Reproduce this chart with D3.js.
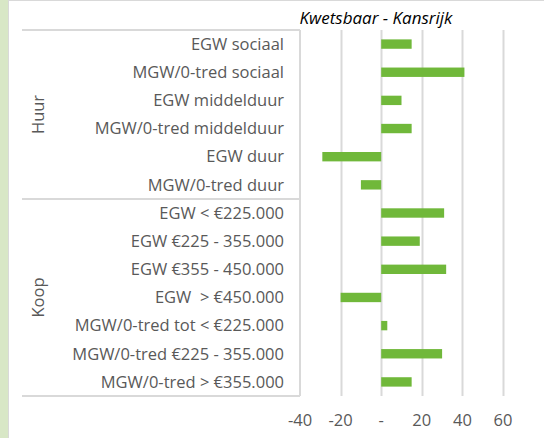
<!doctype html>
<html>
<head>
<meta charset="utf-8" />
<script src="https://cdn.jsdelivr.net/npm/d3@7"></script>
<style>
  body { margin: 0; background: #fff; }
  text { font-family: "Open Sans", sans-serif; fill: #595959; }
</style>
</head>
<body>
<svg id="chart" width="544" height="438"></svg>
<script>
// categories (top to bottom) and their group
var groups = ['Huur', 'Koop'];
var categories = [
  'EGW sociaal', 'MGW/0-tred sociaal', 'EGW middelduur', 'MGW/0-tred middelduur',
  'EGW duur', 'MGW/0-tred duur',
  'EGW < €225.000', 'EGW €225 - 355.000', 'EGW €355 - 450.000', 'EGW  > €450.000',
  'MGW/0-tred tot < €225.000', 'MGW/0-tred €225 - 355.000', 'MGW/0-tred > €355.000'
];
var categoryGroup = ['Huur','Huur','Huur','Huur','Huur','Huur','Koop','Koop','Koop','Koop','Koop','Koop','Koop'];
var values = [15, 41, 10, 15, -29, -10, 31, 19, 32, -20, 3, 30, 15];
var ticks = [-40, -20, 0, 20, 40, 60];
var tickLabels = ['-40', '-20', '-', '20', '40', '60'];
var title = 'Kwetsbaar - Kansrijk';

var svg = d3.select('#chart');
var margin = { top: 30, left: 300, right: 41, bottom: 42 };
var W = 544, H = 438;

// green strip on the left and top border
svg.append('rect').attr('x', 0).attr('y', 0).attr('width', 8).attr('height', H).attr('fill', '#d8e7c6');
svg.append('line').attr('x1', 8.5).attr('x2', 8.5).attr('y1', 0).attr('y2', H).attr('stroke', '#d9d9d9');
svg.append('line').attr('x1', 8).attr('x2', W).attr('y1', 0.5).attr('y2', 0.5).attr('stroke', '#d9d9d9');

var x = d3.scaleLinear().domain([-40, 60]).range([margin.left, W - margin.right]);
var y = d3.scaleBand().domain(categories).range([margin.top, H - margin.bottom]).paddingInner(2 / 3).paddingOuter(1 / 3);

// gridlines
svg.append('g').selectAll('line').data(ticks.slice(1)).join('line')
  .attr('x1', function(d) { return Math.round(x(d)) + 0.5; })
  .attr('x2', function(d) { return Math.round(x(d)) + 0.5; })
  .attr('y1', margin.top).attr('y2', H - margin.bottom)
  .attr('stroke', '#d9d9d9').attr('stroke-width', 2);

// bars
svg.append('g').selectAll('rect').data(values).join('rect')
  .attr('x', function(d) { return x(Math.min(0, d)); })
  .attr('y', function(d, i) { return y(categories[i]); })
  .attr('width', function(d) { return Math.abs(x(d) - x(0)); })
  .attr('height', y.bandwidth())
  .attr('fill', '#70b83a');

// category axis line and group separators
svg.append('line').attr('x1', margin.left).attr('x2', margin.left)
  .attr('y1', margin.top).attr('y2', H - margin.bottom).attr('stroke', '#d9d9d9').attr('stroke-width', 2);
var step = y.step();
var boundaries = [0];
groups.forEach(function(g) {
  var last = categoryGroup.lastIndexOf(g);
  boundaries.push(last + 1);
});
svg.append('g').selectAll('line').data(boundaries).join('line')
  .attr('x1', 22).attr('x2', margin.left)
  .attr('y1', function(d) { return margin.top + d * step; })
  .attr('y2', function(d) { return margin.top + d * step; })
  .attr('stroke', '#d9d9d9').attr('stroke-width', 2);

// category labels
svg.append('g').selectAll('text').data(categories).join('text')
  .attr('x', 284)
  .attr('y', function(d) { return y(d) + y.bandwidth() / 2; })
  .attr('dy', '0.35em')
  .attr('text-anchor', 'end')
  .style('font-size', '16.5px')
  .style('white-space', 'pre')
  .text(function(d) { return d; });

// group labels
groups.forEach(function(g, gi) {
  var yc = margin.top + (boundaries[gi] + boundaries[gi + 1]) / 2 * step;
  svg.append('text')
    .attr('transform', 'translate(38,' + yc + ') rotate(-90)')
    .attr('text-anchor', 'middle')
    .attr('dy', '0.35em')
    .style('font-size', '16.5px')
    .text(g);
});

// value axis labels
svg.append('g').selectAll('text').data(ticks).join('text')
  .attr('x', function(d) { return x(d); })
  .attr('y', 420)
  .attr('dy', '0.35em')
  .attr('text-anchor', 'middle')
  .style('font-size', '16.5px')
  .text(function(d, i) { return tickLabels[i]; });

// title
svg.append('text')
  .attr('x', 376).attr('y', 18)
  .attr('dy', '0.35em')
  .attr('text-anchor', 'middle')
  .style('font-size', '17px')
  .style('font-style', 'italic')
  .style('fill', '#000')
  .text(title);
</script>
</body>
</html>
